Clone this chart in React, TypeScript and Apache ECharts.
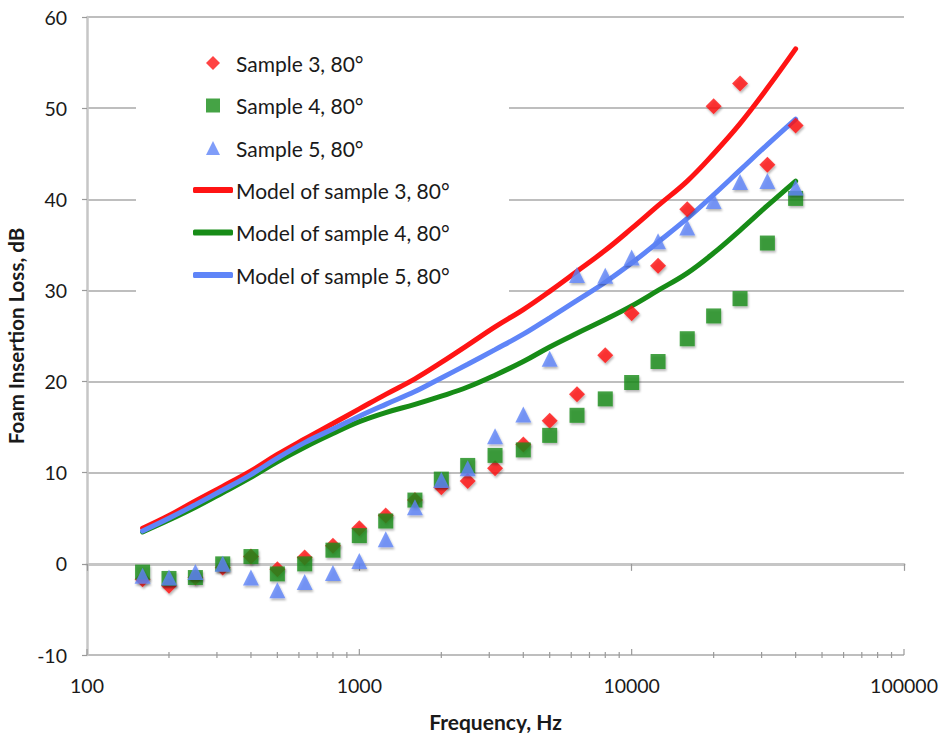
import React, { useEffect, useRef } from "react";
import * as echarts from "echarts";

const freqs = [160, 200, 250, 315, 400, 500, 630, 800, 1000, 1250, 1600, 2000, 2500, 3150, 4000, 5000, 6300, 8000, 10000, 12500, 16000, 20000, 25000, 31500, 40000];

const sample3 = [-1.7, -2.4, -1.5, -0.4, 0.8, -0.6, 0.7, 2.0, 3.9, 5.3, 7.0, 8.4, 9.1, 10.5, 13.1, 15.7, 18.6, 22.9, 27.5, 32.7, 38.9, 50.2, 52.7, 43.8, 48.1];
const sample4 = [-0.9, -1.6, -1.5, 0.0, 0.8, -1.1, 0.0, 1.5, 3.1, 4.7, 7.0, 9.3, 10.8, 11.9, 12.5, 14.1, 16.3, 18.1, 19.9, 22.2, 24.7, 27.2, 29.1, 35.2, 40.1];
const sample5 = [-1.3, -1.5, -0.9, 0.0, -1.5, -2.9, -2.0, -1.0, 0.3, 2.7, 6.2, 9.2, 10.5, 14.0, 16.4, 22.5, 31.7, 31.6, 33.6, 35.4, 36.9, 39.8, 41.9, 42.0, 41.3];

const model3 = [3.9, 5.3, 6.9, 8.5, 10.2, 12.0, 13.7, 15.4, 17.0, 18.6, 20.3, 22.1, 24.0, 26.0, 27.9, 29.9, 32.1, 34.4, 36.8, 39.3, 42.0, 45.0, 48.3, 52.2, 56.5];
const model4 = [3.5, 4.8, 6.2, 7.8, 9.5, 11.2, 12.8, 14.3, 15.6, 16.6, 17.5, 18.4, 19.4, 20.7, 22.2, 23.8, 25.3, 26.8, 28.3, 30.0, 31.9, 34.1, 36.6, 39.3, 42.0];
const model5 = [3.6, 5.0, 6.5, 8.1, 9.8, 11.6, 13.3, 14.8, 16.2, 17.5, 18.9, 20.4, 21.9, 23.5, 25.2, 27.0, 28.9, 30.9, 33.0, 35.3, 37.9, 40.5, 43.2, 46.0, 48.8];

const sampleNames = ["Sample 3, 80°", "Sample 4, 80°", "Sample 5, 80°"];
const modelNames = ["Model of sample 3, 80°", "Model of sample 4, 80°", "Model of sample 5, 80°"];

const minorTicks = [200, 300, 400, 500, 600, 700, 800, 900, 2000, 3000, 4000, 5000, 6000, 7000, 8000, 9000, 20000, 30000, 40000, 50000, 60000, 70000, 80000, 90000];
const majorTicks = [100, 1000, 10000, 100000];

const RED = "#ff1414";
const GREEN = "#178c17";
const BLUE = "#5f85f8";
const FONT = "Lato";
const TEXT = "#1a1a1a";

function pairs(vals: number[]) {
  return freqs.map((f, i) => [f, vals[i]]);
}

const shadow = {
  shadowBlur: 2,
  shadowColor: "rgba(0,0,0,0.35)",
  shadowOffsetX: 1,
  shadowOffsetY: 2,
};

export default function App() {
  const ref = useRef<HTMLDivElement>(null);
  useEffect(() => {
    if (!ref.current) return;
    const chart = echarts.init(ref.current, null, { renderer: "svg" });
    const tickSeries = (vals: number[], up: number, down: number) => ({
      type: "custom",
      silent: true,
      clip: false,
      z: 3,
      data: vals.map((v) => [v, -10]),
      encode: { x: 0, y: 1 },
      renderItem: (params: any, api: any) => {
        const p = api.coord([api.value(0), api.value(1)]);
        return {
          type: "line",
          shape: { x1: p[0], y1: p[1] - up, x2: p[0], y2: p[1] + down },
          style: { stroke: "#9a9a9a", lineWidth: 1.2 },
        };
      },
    });
    const legendText = { fontFamily: FONT, fontSize: 21, color: TEXT, lineHeight: 22 };
    chart.setOption({
      animation: false,
      backgroundColor: "#fff",
      textStyle: { fontFamily: FONT },
      grid: {
        left: 87,
        right: 39,
        top: 17,
        bottom: 78,
        containLabel: false,
        outerBoundsMode: "none",
      },
      graphic: [
        {
          type: "rect",
          z: 1,
          shape: { x: 136, y: 28, width: 373, height: 268 },
          style: { fill: "#fff" },
          silent: true,
        },
      ],
      legend: [
        {
          orient: "vertical",
          left: 206,
          top: 52,
          padding: 0,
          itemWidth: 14,
          itemHeight: 14,
          itemGap: 20.5,
          textStyle: { ...legendText, padding: [0, 0, 0, 11] },
          data: sampleNames,
        },
        {
          orient: "vertical",
          left: 193,
          top: 179,
          padding: 0,
          itemWidth: 40,
          itemHeight: 6,
          itemGap: 20.5,
          icon: "roundRect",
          textStyle: { ...legendText, padding: [0, 0, 0, -2] },
          data: modelNames,
        },
      ],
      xAxis: {
        type: "log",
        logBase: 10,
        min: 100,
        max: 100000,
        axisLine: { show: true, lineStyle: { color: "#c6c6c6", width: 3 } },
        axisTick: { show: true, length: 7, lineStyle: { color: "#9a9a9a", width: 1.2 } },
        axisLabel: {
          fontFamily: FONT,
          fontSize: 19.5,
          color: TEXT,
          margin: 20,
          formatter: (v: number) => String(Math.round(v)),
        },
        splitLine: { show: false },
        name: "Frequency, Hz",
        nameLocation: "middle",
        nameGap: 56,
        nameTextStyle: { fontFamily: FONT, fontSize: 21, fontWeight: "bold", color: TEXT },
      },
      yAxis: {
        type: "value",
        min: -10,
        max: 60,
        interval: 10,
        axisLine: { show: true, lineStyle: { color: "#c6c6c6", width: 2.5 } },
        axisTick: { show: true, length: 5, lineStyle: { color: "#9a9a9a", width: 1.2 } },
        axisLabel: { fontFamily: FONT, fontSize: 19.5, color: TEXT, margin: 20 },
        splitLine: { show: true, lineStyle: { color: "#a8a8a8", width: 1.5 } },
        name: "Foam Insertion Loss, dB",
        nameLocation: "middle",
        nameGap: 58,
        nameTextStyle: { fontFamily: FONT, fontSize: 20.5, fontWeight: "bold", color: TEXT },
      },
      series: [
        {
          name: sampleNames[0],
          type: "scatter",
          symbol: "diamond",
          symbolSize: 16,
          itemStyle: { color: RED, ...shadow },
          data: pairs(sample3),
          z: 5,
        },
        {
          name: sampleNames[1],
          type: "scatter",
          symbol: "rect",
          symbolSize: 15,
          itemStyle: { color: GREEN, ...shadow },
          data: pairs(sample4),
          z: 6,
        },
        {
          name: sampleNames[2],
          type: "scatter",
          symbol: "triangle",
          symbolSize: 16,
          itemStyle: { color: BLUE, ...shadow },
          data: pairs(sample5),
          z: 7,
        },
        {
          name: modelNames[0],
          type: "line",
          symbol: "none",
          smooth: 0.4,
          lineStyle: { color: RED, width: 5, cap: "round" },
          itemStyle: { color: RED },
          data: pairs(model3),
          z: 4,
        },
        {
          name: modelNames[1],
          type: "line",
          symbol: "none",
          smooth: 0.4,
          lineStyle: { color: GREEN, width: 5, cap: "round" },
          itemStyle: { color: GREEN },
          data: pairs(model4),
          z: 3,
        },
        {
          name: modelNames[2],
          type: "line",
          symbol: "none",
          smooth: 0.4,
          lineStyle: { color: BLUE, width: 5, cap: "round" },
          itemStyle: { color: BLUE },
          data: pairs(model5),
          z: 4,
        },
        tickSeries(minorTicks, 3, 3),
        tickSeries(majorTicks, 6, 0),
      ],
    });
    return () => chart.dispose();
  }, []);
  return (
    <div
      ref={ref}
      style={{ position: "fixed", left: 0, top: 0, width: 943, height: 733, background: "#fff" }}
    />
  );
}
